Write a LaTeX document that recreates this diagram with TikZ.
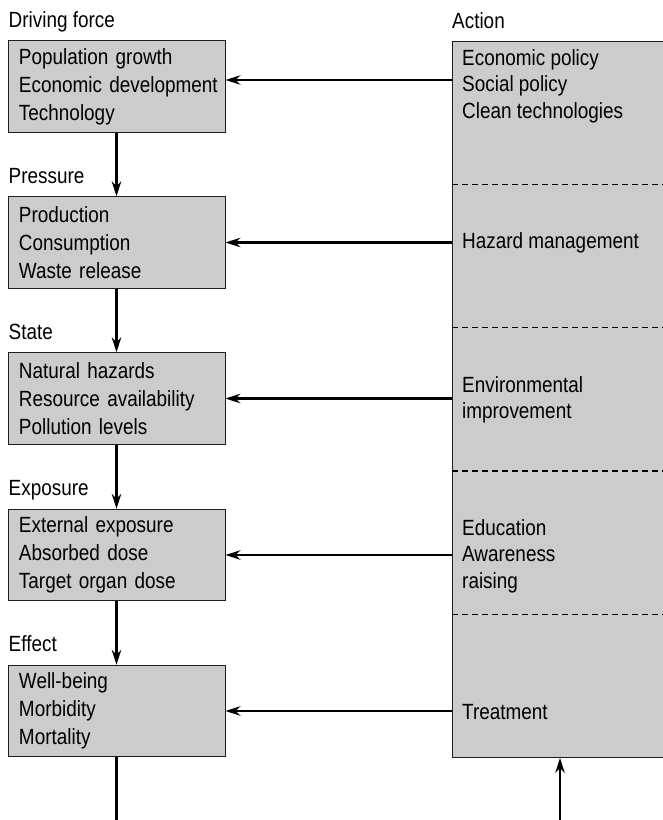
\documentclass[tikz,border=0pt]{standalone}
\usepackage{fontspec}
\setmainfont[FakeStretch=0.86]{Liberation Sans}
\usetikzlibrary{arrows.meta,positioning,calc}
\definecolor{BoxGray}{RGB}{204,204,204}
\definecolor{EdgeDark}{RGB}{30,30,30}

\begin{document}
\begin{tikzpicture}[x=1pt,y=-1pt,
    font=\fontsize{22}{28}\selectfont,
    stagebox/.style={draw=EdgeDark, line width=0.9pt, fill=BoxGray, text width=195pt, inner xsep=11pt, inner ysep=0pt, minimum height=91.5pt, align=left},
    tag/.style={anchor=base west, inner sep=0pt},
    acttext/.style={anchor=west, align=left, inner sep=0pt, font=\fontsize{22}{26.5}\selectfont},
    flow/.style={-{Stealth[length=15pt,width=9.5pt,inset=5pt]}, line width=2.2pt},
    lead/.style={line width=2.2pt},
    sep/.style={dash pattern=on 6pt off 4pt, line width=1.3pt}]
        \path[use as bounding box] (0,0) rectangle (663,820);
        \clip (0,0) rectangle (663,820);
        \node[stagebox] (drv) at (116.5,86.5) {Population growth\\\mbox{Economic development}\\Technology};
        \node[stagebox] (prs) at (116.5,242.5) {Production\\Consumption\\Waste release};
        \node[stagebox] (sta) at (116.5,398.5) {Natural hazards\\\mbox{Resource availability}\\Pollution levels};
        \node[stagebox] (expo) at (116.5,555) {External exposure\\Absorbed dose\\Target organ dose};
        \node[stagebox] (eff) at (116.5,711) {Well-being\\Morbidity\\Mortality};
        \node[tag] (drvlbl) at ([xshift=1pt,yshift=13pt]drv.north west) {Driving force};
        \node[tag] (prslbl) at ([xshift=1pt,yshift=13pt]prs.north west) {Pressure};
        \node[tag] (stalbl) at ([xshift=1pt,yshift=13pt]sta.north west) {State};
        \node[tag] (expolbl) at ([xshift=1pt,yshift=13pt]expo.north west) {Exposure};
        \node[tag] (efflbl) at ([xshift=1pt,yshift=13pt]eff.north west) {Effect};
        \node[draw=EdgeDark, line width=0.9pt, fill=BoxGray, anchor=north west, minimum width=260pt, minimum height=716pt, inner sep=0pt] (act) at (452,41) {};
        \node[tag] (actlbl) at ([xshift=0pt,yshift=13pt]act.north west) {Action};
        \foreach \k in {1,...,4}
          \draw[sep] ($(act.north west)!\k/5!(act.south west)$) -- ++(215,0);
        \node[acttext] (pol) at (462,86) {Economic policy\\Social policy\\Clean technologies};
        \node[acttext] (haz) at (462,243) {Hazard management};
        \node[acttext] (env) at (462,400) {Environmental\\improvement};
        \node[acttext] (edu) at (462,556) {Education\\Awareness\\raising};
        \node[acttext] (trt) at (462,712) {Treatment};
        \path (drv.east) ++(0,-6.5) coordinate (drvin);
        \draw[flow] (act.west |- drvin) -- (drvin);
        \draw[flow] (act.west |- prs.east) -- (prs.east);
        \draw[flow] (act.west |- sta.east) -- (sta.east);
        \draw[flow] (act.west |- expo.east) -- (expo.east);
        \draw[flow] (act.west |- eff.east) -- (eff.east);
        \draw[flow] (drv.south) -- (prs.north);
        \draw[flow] (prs.south) -- (sta.north);
        \draw[flow] (sta.south) -- (expo.north);
        \draw[flow] (expo.south) -- (eff.north);
        \coordinate (outL) at (116.5,820);
        \draw[lead] (eff.south) -- (outL);
        \coordinate (inR) at (560,820);
        \draw[flow] (inR) -- (inR |- act.south);
      \end{tikzpicture}
\end{document}
